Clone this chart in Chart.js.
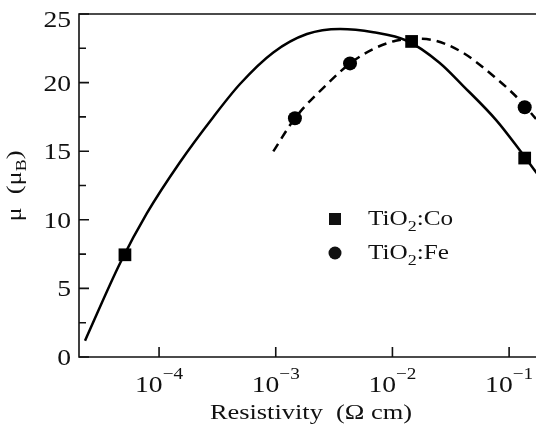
<!DOCTYPE html>
<html>
<head>
<meta charset="utf-8">
<script src="https://cdn.jsdelivr.net/npm/chart.js@4/dist/chart.umd.min.js"></script>
<style>
	body { margin: 0; background: #fff; }
	#chart { display: block; }
</style>
</head>
<body>
<canvas id="chart" width="536" height="427"></canvas>
<script>
// measured points
const coX = [5.1e-5, 0.0146, 0.136];
const coY = [7.45, 23.0, 14.5];
const feX = [1.46e-3, 4.33e-3, 0.136];
const feY = [17.4, 21.4, 18.2];

// fitted curves
const coFitX = [2.32e-5, 4.64e-5, 7.85e-5, 1.51e-4, 2.92e-4, 4.94e-4, 9.53e-4, 1.85e-3, 3.56e-3, 6.86e-3, 0.0133, 0.0253, 0.0405, 0.0778, 0.124, 0.173];
const coFitY = [1.19, 6.85, 10.47, 14.2, 17.5, 19.9, 22.2, 23.54, 23.91, 23.67, 23.05, 21.45, 19.75, 17.25, 15.05, 13.39];
const feFitX = [9.53e-4, 1.46e-3, 2.86e-3, 4.33e-3, 6.86e-3, 0.01065, 0.0151, 0.0222, 0.0389, 0.0777, 0.123, 0.17];
const feFitY = [14.99, 17.4, 20.02, 21.4, 22.45, 23.05, 23.2, 23.1, 22.25, 20.3, 18.73, 17.35];

const yMajor = [0, 5, 10, 15, 20, 25];
const yMinor = [2.5, 7.5, 12.5, 17.5, 22.5];
const xTicks = [1e-4, 1e-3, 1e-2, 1e-1];
const xTickExp = ['\u22124', '\u22123', '\u22122', '\u22121'];

const toPts = (xs, ys) => xs.map((x, i) => ({ x: x, y: ys[i] }));

const SERIF = '"Liberation Serif", "DejaVu Serif", serif';
const SX = 1.2;

const textW = (ctx, t, font) => {
	ctx.font = font;
	return ctx.measureText(t).width * SX;
};

const drawText = (ctx, t, x, y, font, align) => {
	ctx.save();
	ctx.font = font;
	ctx.translate(x, y);
	ctx.scale(SX, 1);
	ctx.textAlign = align || 'left';
	ctx.textBaseline = 'alphabetic';
	ctx.fillText(t, 0, 0);
	ctx.restore();
};

const axesPlugin = {
	id: 'axesPlugin',
	afterDraw(chart) {
		const ctx = chart.ctx;
		const a = chart.chartArea;
		const xs = chart.scales.x;
		const ys = chart.scales.y;
		ctx.save();
		ctx.strokeStyle = '#111';
		ctx.fillStyle = '#111';
		ctx.lineWidth = 1.6;

		// frame: left, bottom, top
		ctx.beginPath();
		ctx.moveTo(a.right, a.top);
		ctx.lineTo(a.left, a.top);
		ctx.lineTo(a.left, a.bottom);
		ctx.lineTo(a.right, a.bottom);
		ctx.stroke();

		// inward ticks
		ctx.beginPath();
		yMajor.forEach(v => {
			const p = ys.getPixelForValue(v);
			ctx.moveTo(a.left, p);
			ctx.lineTo(a.left + 10, p);
		});
		yMinor.forEach(v => {
			const p = ys.getPixelForValue(v);
			ctx.moveTo(a.left, p);
			ctx.lineTo(a.left + 7, p);
		});
		xTicks.forEach(v => {
			const p = xs.getPixelForValue(v);
			ctx.moveTo(p, a.bottom);
			ctx.lineTo(p, a.bottom - 10);
		});
		ctx.stroke();

		// y labels (top one pushed down inside the picture)
		const tickFont = '23px ' + SERIF;
		yMajor.forEach(v => {
			const p = ys.getPixelForValue(v);
			const dy = v === 25 ? 13 : 8;
			drawText(ctx, String(v), a.left - 8, p + dy, tickFont, 'right');
		});

		// x labels 10^n
		const supFont = '16px ' + SERIF;
		xTicks.forEach((v, i) => {
			const p = xs.getPixelForValue(v);
			const wb = textW(ctx, '10', tickFont);
			const ws = textW(ctx, xTickExp[i], supFont);
			const x0 = p - (wb + ws) / 2;
			drawText(ctx, '10', x0, a.bottom + 35, tickFont, 'left');
			drawText(ctx, xTickExp[i], x0 + wb, a.bottom + 22, supFont, 'left');
		});

		// x title
		drawText(ctx, 'Resistivity  (\u03a9 cm)', 311, 419, '22px ' + SERIF, 'center');

		// y title: μ  (μB)
		ctx.save();
		ctx.translate(21, 186);
		ctx.rotate(-Math.PI / 2);
		ctx.scale(SX, 1);
		const yFont = '22px ' + SERIF;
		const subFont = '15px ' + SERIF;
		ctx.font = yFont;
		const p1 = '\u03bc  (\u03bc';
		const w1 = ctx.measureText(p1).width;
		ctx.font = subFont;
		const w2 = ctx.measureText('B').width;
		ctx.font = yFont;
		const w3 = ctx.measureText(')').width;
		let x = -(w1 + w2 + w3) / 2;
		ctx.textBaseline = 'alphabetic';
		ctx.fillText(p1, x, 0);
		x += w1;
		ctx.font = subFont;
		ctx.fillText('B', x, 5);
		x += w2;
		ctx.font = yFont;
		ctx.fillText(')', x, 0);
		ctx.restore();

		// legend
		const legFont = '21px ' + SERIF;
		const legSub = '15px ' + SERIF;
		const legendRow = (label, y) => {
			let lx = 368;
			drawText(ctx, 'TiO', lx, y, legFont, 'left');
			lx += textW(ctx, 'TiO', legFont);
			drawText(ctx, '2', lx, y + 6, legSub, 'left');
			lx += textW(ctx, '2', legSub);
			drawText(ctx, label, lx, y, legFont, 'left');
		};
		ctx.fillRect(335 - 6, 219 - 6, 12, 12);
		legendRow(':Co', 225);
		ctx.beginPath();
		ctx.arc(335, 253, 6.5, 0, Math.PI * 2);
		ctx.fill();
		legendRow(':Fe', 259);

		ctx.restore();
	}
};

new Chart(document.getElementById('chart'), {
	type: 'line',
	data: {
		datasets: [
			{
				label: 'TiO2:Co',
				data: toPts(coX, coY),
				showLine: false,
				pointStyle: 'rect',
				pointRadius: 9,
				backgroundColor: '#000',
				borderColor: '#000',
				borderWidth: 0
			},
			{
				label: 'TiO2:Fe',
				data: toPts(feX, feY),
				showLine: false,
				pointStyle: 'circle',
				pointRadius: 7,
				backgroundColor: '#000',
				borderColor: '#000',
				borderWidth: 0
			},
			{
				label: 'Co fit',
				data: toPts(coFitX, coFitY),
				borderColor: '#000',
				borderWidth: 2.5,
				pointRadius: 0,
				cubicInterpolationMode: 'monotone',
				fill: false
			},
			{
				label: 'Fe fit',
				data: toPts(feFitX, feFitY),
				borderColor: '#000',
				borderWidth: 2.5,
				borderDash: [9, 6],
				pointRadius: 0,
				cubicInterpolationMode: 'monotone',
				fill: false
			}
		]
	},
	options: {
		responsive: false,
		animation: false,
		layout: {
			autoPadding: false,
			padding: { left: 79, right: 0, top: 14, bottom: 70 }
		},
		scales: {
			x: {
				type: 'logarithmic',
				display: false,
				min: 2.06e-5,
				max: 0.17
			},
			y: {
				type: 'linear',
				display: false,
				min: 0,
				max: 25
			}
		},
		plugins: {
			legend: { display: false },
			tooltip: { enabled: false }
		}
	},
	plugins: [axesPlugin]
});
</script>
</body>
</html>
